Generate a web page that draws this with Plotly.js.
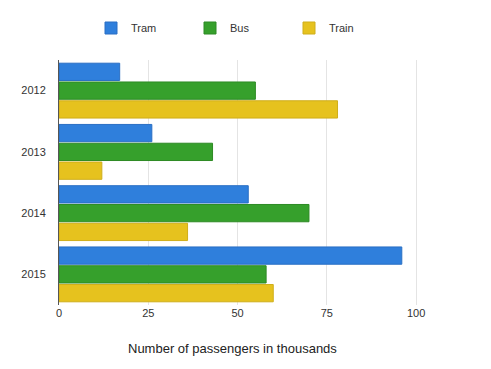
<!DOCTYPE html>
<html>
<head>
<meta charset="utf-8">
<script src="https://cdn.plot.ly/plotly-3.0.1.min.js"></script>
<style>html,body{margin:0;padding:0;background:#fff;}#chart{width:491px;height:369px;}</style>
</head>
<body>
<div id="chart"></div>
<script>
var years = ['2012', '2013', '2014', '2015'];
var tram = [17, 26, 53, 96];
var bus = [55, 43, 70, 58];
var train = [78, 12, 36, 60];
var xTicks = [0, 25, 50, 75, 100];

function mk(name, vals, color, line) {
  return {
    type: 'bar', orientation: 'h', name: name,
    y: years, x: vals,
    marker: {color: color, line: {color: line, width: 1}},
    hoverinfo: 'x+name'
  };
}
var data = [
  mk('Tram', tram, '#2f7fdc', '#2a6fc4'),
  mk('Bus', bus, '#36a02c', '#2d8a24'),
  mk('Train', train, '#e6c21e', '#cfae1a')
];
var layout = {
  width: 491, height: 369,
  margin: {l: 59, r: 31, t: 60, b: 64, autoexpand: false},
  paper_bgcolor: '#fff', plot_bgcolor: '#fff',
  font: {family: 'Liberation Sans, Arial, sans-serif', size: 11, color: '#333'},
  barmode: 'group', bargap: 0.08, bargroupgap: 0.08,
  showlegend: true,
  legend: {orientation: 'h', x: (91 - 59) / 401, xanchor: 'left', y: 1 + 32 / 245, yanchor: 'middle',
           entrywidth: 54, font: {size: 11, color: '#333'}, traceorder: 'normal'},
  xaxis: {range: [0, 112.3], tickvals: xTicks, ticktext: xTicks.map(String),
          showgrid: true, gridcolor: '#e4e4e4', gridwidth: 1, zeroline: false,
          showline: false, ticks: '', fixedrange: true},
  yaxis: {autorange: 'reversed', showgrid: false, zeroline: false,
          showline: true, linecolor: '#555', linewidth: 1, ticks: '', ticklabelstandoff: 10},
  annotations: [{text: 'Number of passengers in thousands', xref: 'paper', yref: 'paper',
                 x: (232 - 59) / 401, y: -0.1795, xanchor: 'center', yanchor: 'middle',
                 showarrow: false, font: {size: 13, color: '#222'}}]
};
Plotly.newPlot('chart', data, layout, {displayModeBar: false, staticPlot: true});
</script>
</body>
</html>
